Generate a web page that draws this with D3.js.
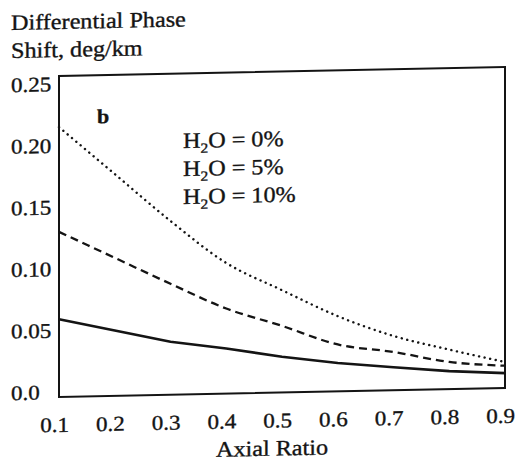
<!DOCTYPE html>
<html>
<head>
<meta charset="utf-8">
<script src="https://cdn.jsdelivr.net/npm/d3@7"></script>
<style>
    body { margin: 0; background: #fff; }
    svg { display: block; font-family: "Liberation Serif", "Times New Roman", serif; }
</style>
</head>
<body>
<svg id="chart"></svg>
<script>
// Differential phase shift (deg/km) against axial ratio, one series per water fraction
const axialRatio = [0.1, 0.2, 0.3, 0.4, 0.5, 0.6, 0.7, 0.8, 0.9];
const water0 = [0.059, 0.049, 0.039, 0.0325, 0.025, 0.019, 0.0146, 0.0105, 0.008];
const water5 = [0.130, 0.108, 0.086, 0.065, 0.050, 0.034, 0.027, 0.018, 0.014];
const water10 = [0.215, 0.176, 0.137, 0.102, 0.079, 0.057, 0.040, 0.028, 0.017];

const xTicks = [0.1, 0.2, 0.3, 0.4, 0.5, 0.6, 0.7, 0.8, 0.9];
const xTickLabels = ["0.1", "0.2", "0.3", "0.4", "0.5", "0.6", "0.7", "0.8", "0.9"];
const yTicks = [0, 0.05, 0.10, 0.15, 0.20, 0.25];
const yTickLabels = ["0.0", "0.05", "0.10", "0.15", "0.20", "0.25"];
const legendLabels = ["0%", "5%", "10%"];

const config = {
    width: 525,
    height: 461,
    margin: {top: 84, right: 20, bottom: 69, left: 59},
    textStretch: 1.1,
    ink: "#141414"
};

const svg = d3.select("#chart")
    .attr("width", config.width)
    .attr("height", config.height);

// the printed page sits slightly tilted
const root = svg.append("g")
    .attr("transform", `translate(${config.margin.left},0) skewY(-1.16) translate(${-config.margin.left},0)`);

const xScale = d3.scaleLinear()
    .domain([0.1, 0.9])
    .range([config.margin.left, config.width - config.margin.right]);

const yScale = d3.scaleLinear()
    .domain([0, 0.25])
    .range([config.height - config.margin.bottom, config.margin.top]);

// frame box, a little larger than the value range
const frameTop = yScale(0.25) - 8;
const frameBottom = yScale(0) + 5;
root.append("rect")
    .attr("x", xScale(0.1))
    .attr("y", frameTop)
    .attr("width", xScale(0.9) - xScale(0.1))
    .attr("height", frameBottom - frameTop)
    .attr("fill", "none")
    .attr("stroke", config.ink)
    .attr("stroke-width", 2);

// axes: labels only, no tick marks
const xAxis = d3.axisBottom(xScale)
    .tickValues(xTicks)
    .tickSize(0)
    .tickPadding(20)
    .tickFormat((d, i) => xTickLabels[i]);

const yAxis = d3.axisLeft(yScale)
    .tickValues(yTicks)
    .tickSize(0)
    .tickFormat((d, i) => yTickLabels[i]);

const xAxisG = root.append("g")
    .attr("transform", `translate(0,${frameBottom})`)
    .call(xAxis);

const yAxisG = root.append("g")
    .attr("transform", `translate(${config.margin.left},0)`)
    .call(yAxis);

[xAxisG, yAxisG].forEach(g => {
    g.attr("font-family", null).attr("font-size", 21);
    g.select(".domain").remove();
    g.selectAll("text")
        .attr("fill", config.ink)
        .attr("stroke", config.ink)
        .attr("stroke-width", 0.35)
        .attr("transform", `scale(${config.textStretch},1)`);
});

xAxisG.selectAll("text").attr("dx", -4.5);
yAxisG.selectAll("text")
    .attr("text-anchor", "start")
    .attr("x", -48 / config.textStretch);

// curves
const series = [
    {values: water0, width: 2.6, dash: null, cap: "butt", curve: d3.curveLinear},
    {values: water5, width: 2.3, dash: "8,5", cap: "butt", curve: d3.curveMonotoneX},
    {values: water10, width: 2.4, dash: "0.1,5.6", cap: "round", curve: d3.curveMonotoneX}
];

root.selectAll(".curve")
    .data(series)
    .join("path")
    .attr("class", "curve")
    .attr("d", d => d3.line()
        .x((v, i) => xScale(axialRatio[i]))
        .y(v => yScale(v))
        .curve(d.curve)(d.values))
    .attr("fill", "none")
    .attr("stroke", config.ink)
    .attr("stroke-width", d => d.width)
    .attr("stroke-dasharray", d => d.dash)
    .attr("stroke-linecap", d => d.cap)
    .attr("stroke-linejoin", "round");

// free text, stretched a little to the printed type
function label(x, y, size) {
    return root.append("text")
        .attr("transform", `translate(${x},${y}) scale(${config.textStretch},1)`)
        .attr("font-size", size)
        .attr("fill", config.ink)
        .attr("stroke", config.ink)
        .attr("stroke-width", 0.35);
}

label(11, 29, 22).text("Differential Phase");
label(11, 57, 22).text("Shift, deg/km");
label(97, 124, 20).attr("font-weight", "bold").text("b");
label(272, 460, 22).attr("text-anchor", "middle").text("Axial Ratio");

legendLabels.forEach((d, i) => {
    const t = label(183, 150.5 + i * 28, 22);
    t.append("tspan").text("H");
    t.append("tspan").attr("font-size", 14).attr("dy", 5).text("2");
    t.append("tspan").attr("dy", -5).text("O = " + d);
});
</script>
</body>
</html>
